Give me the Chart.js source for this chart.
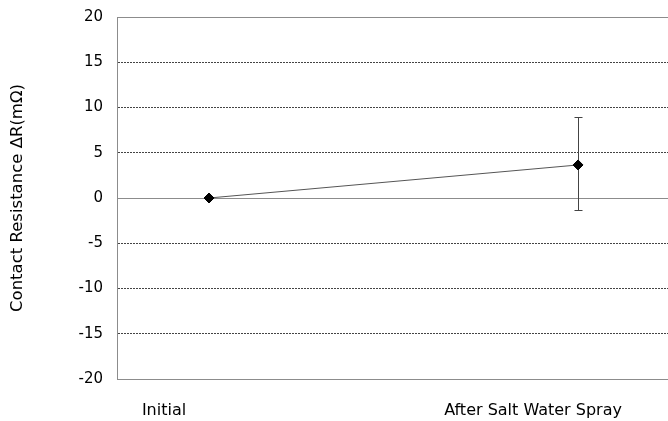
<!DOCTYPE html>
<html>
<head>
<meta charset="utf-8">
<script src="https://cdn.jsdelivr.net/npm/chart.js@4.4.1/dist/chart.umd.min.js"></script>
<style>
  html, body { margin: 0; padding: 0; background: #fff; }
  #wrap { width: 668px; height: 421px; }
</style>
</head>
<body>
<div id="wrap"><canvas id="c" width="668" height="421"></canvas></div>
<script>
// Measurement stages
const categories = ['Initial', 'After Salt Water Spray'];
// Mean change in contact resistance (mΩ)
const meanDelta = [0, 3.65];
// Error bar ends (mΩ)
const errHigh = [0, 9.0];
const errLow = [0, -1.3];
// Y axis ticks
const yTicks = [-20, -15, -10, -5, 0, 5, 10, 15, 20];

const FONT = "'DejaVu Sans', Verdana, sans-serif";

// Vertical error bars with caps, drawn beneath the markers
const errorBars = {
  id: 'errorBars',
  beforeDatasetsDraw(chart) {
    const { ctx, scales: { x, y } } = chart;
    ctx.save();
    ctx.strokeStyle = '#444';
    ctx.lineWidth = 1;
    meanDelta.forEach((v, i) => {
      if (errHigh[i] === errLow[i]) return;
      const px = Math.round(x.getPixelForValue(i)) + 0.5;
      const top = Math.round(y.getPixelForValue(errHigh[i])) + 0.5;
      const bot = Math.round(y.getPixelForValue(errLow[i])) + 0.5;
      ctx.beginPath();
      ctx.moveTo(px, top); ctx.lineTo(px, bot);
      ctx.moveTo(px - 4, top); ctx.lineTo(px + 4, top);
      ctx.moveTo(px - 4, bot); ctx.lineTo(px + 4, bot);
      ctx.stroke();
    });
    ctx.restore();
  }
};

new Chart(document.getElementById('c'), {
  type: 'line',
  data: {
    datasets: [{
      data: meanDelta.map((v, i) => ({ x: i, y: v })),
      borderColor: '#555',
      borderWidth: 1,
      pointStyle: 'rectRot',
      pointRadius: 5,
      pointBorderWidth: 1,
      pointBackgroundColor: '#000',
      pointBorderColor: '#000',
      tension: 0
    }]
  },
  options: {
    responsive: false,
    animation: false,
    layout: { autoPadding: false, padding: { top: 17, right: 0, bottom: 0, left: 0 } },
    plugins: { legend: { display: false }, tooltip: { enabled: false } },
    scales: {
      x: {
        type: 'linear',
        min: -0.2494,
        max: 1.2438,
        afterBuildTicks(scale) {
          scale.ticks = categories.map((c, i) => ({ value: i }));
        },
        afterFit(scale) {
          scale.height = 42;
          scale.paddingLeft = 0;
          scale.paddingRight = 0;
        },
        grid: { display: false, drawTicks: false },
        border: { display: true, color: '#8c8c8c', width: 1 },
        ticks: {
          autoSkip: false,
          maxRotation: 0,
          padding: 22,
          labelOffset: -45,
          color: '#000',
          font: { family: FONT, size: 16 },
          callback: (v) => categories[v]
        }
      },
      y: {
        min: -20,
        max: 20,
        afterBuildTicks(scale) {
          scale.ticks = yTicks.map(v => ({ value: v }));
        },
        afterFit(scale) {
          scale.width = 117;
          scale.paddingTop = 0;
          scale.paddingBottom = 0;
        },
        grid: {
          drawTicks: false,
          lineWidth: 1,
          color: (ctx) => (ctx.tick && (ctx.tick.value === 0 || ctx.tick.value === 20)) ? '#8c8c8c' : '#444'
        },
        border: {
          display: true,
          color: '#8c8c8c',
          width: 1,
          dash: (ctx) => (ctx.tick && (ctx.tick.value === 0 || ctx.tick.value === 20 || ctx.tick.value === -20)) ? [] : [2, 1]
        },
        ticks: {
          padding: 14,
          color: '#000',
          font: { family: FONT, size: 15 }
        },
        title: {
          display: true,
          text: 'Contact Resistance ΔR(mΩ)',
          color: '#000',
          font: { family: FONT, size: 16.5 },
          padding: { top: 8, bottom: 0 }
        }
      }
    }
  },
  plugins: [errorBars]
});
</script>
</body>
</html>
